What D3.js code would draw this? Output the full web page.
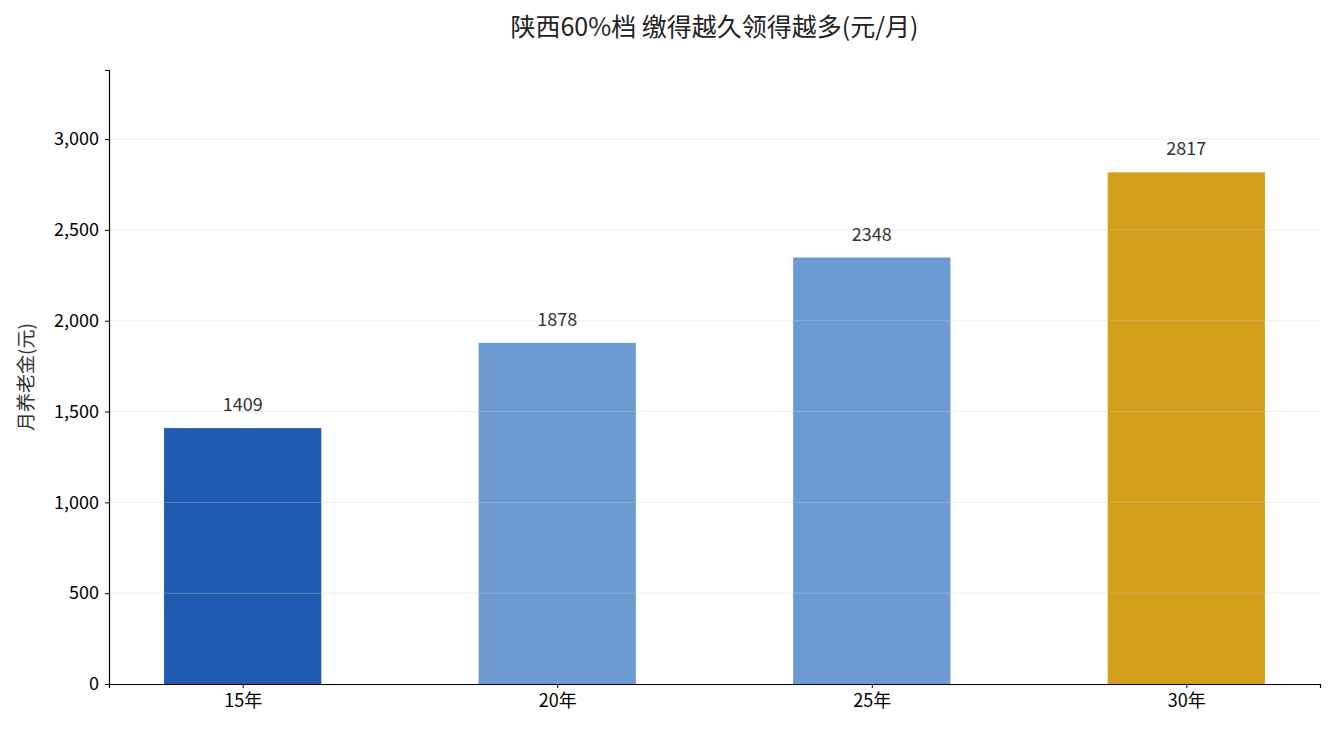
<!DOCTYPE html>
<meta charset="utf-8">
<style>
  body { margin: 0; background: #fff; }
  text { font-family: "Noto Sans CJK SC", sans-serif; }
</style>
<body>
<div id="chart"></div>
<script src="https://d3js.org/d3.v7.min.js"></script>
<script>
// data
var categories = ["15年", "20年", "25年", "30年"];
var values = [1409, 1878, 2348, 2817];
var colors = ["#1f5bb0", "#6b9bd2", "#6b9bd2", "#d4a01c"];
var yTicks = [0, 500, 1000, 1500, 2000, 2500, 3000];

var W = 1334, H = 735;
var margin = { top: 70, right: 14, bottom: 51, left: 109 };
var width = W - margin.left - margin.right;
var height = H - margin.top - margin.bottom;

var svg = d3.select("#chart").append("svg")
  .attr("width", W).attr("height", H);
var g = svg.append("g")
  .attr("transform", "translate(" + margin.left + "," + margin.top + ")");

var x = d3.scaleLinear().domain([-0.425, 3.425]).range([0, width]);
var y = d3.scaleLinear().domain([0, 2817 * 1.2]).range([height, 0]);
var bw = x(0.5) - x(0);

// bars
g.selectAll(".bar").data(values).enter().append("rect")
  .attr("x", function (d, i) { return x(i) - bw / 2; })
  .attr("y", function (d) { return y(d); })
  .attr("width", bw)
  .attr("height", function (d) { return height - y(d); })
  .attr("fill", function (d, i) { return colors[i]; });

// grid over bars
g.selectAll(".grid").data(yTicks.slice(1)).enter().append("line")
  .attr("x1", 0).attr("x2", width)
  .attr("y1", function (d) { return y(d); })
  .attr("y2", function (d) { return y(d); })
  .attr("stroke", "#cccccc").attr("stroke-opacity", 0.45).attr("stroke-width", 0.8);

// value labels
g.selectAll(".lbl").data(values).enter().append("text")
  .attr("x", function (d, i) { return x(i); })
  .attr("y", function (d) { return y(d) - 17; })
  .attr("text-anchor", "middle")
  .attr("font-size", 18).attr("fill", "#333")
  .text(function (d) { return d; });

// axes
var yAxis = g.append("g")
  .call(d3.axisLeft(y).tickValues(yTicks).tickSize(4).tickPadding(6));
var xAxis = g.append("g")
  .attr("transform", "translate(0," + height + ")")
  .call(d3.axisBottom(x).tickValues([0, 1, 2, 3]).tickSize(4).tickPadding(6)
    .tickFormat(function (d) { return categories[d]; }));
[xAxis, yAxis].forEach(function (a) {
  a.selectAll("text").attr("font-size", 18).attr("fill", "#000")
    .style("font-family", "'Noto Sans CJK SC', sans-serif");
  a.select(".domain").attr("stroke", "#000").attr("stroke-width", 1.2);
});

// y label
svg.append("text")
  .attr("transform", "translate(33," + (margin.top + height / 2) + ") rotate(-90)")
  .attr("text-anchor", "middle").attr("font-size", 19).attr("fill", "#333")
  .text("月养老金(元)");

// title
svg.append("text")
  .attr("x", margin.left + width / 2).attr("y", 36)
  .attr("text-anchor", "middle").attr("font-size", 25).attr("fill", "#222")
  .text("陕西60%档 缴得越久领得越多(元/月)");
</script>
</body>
